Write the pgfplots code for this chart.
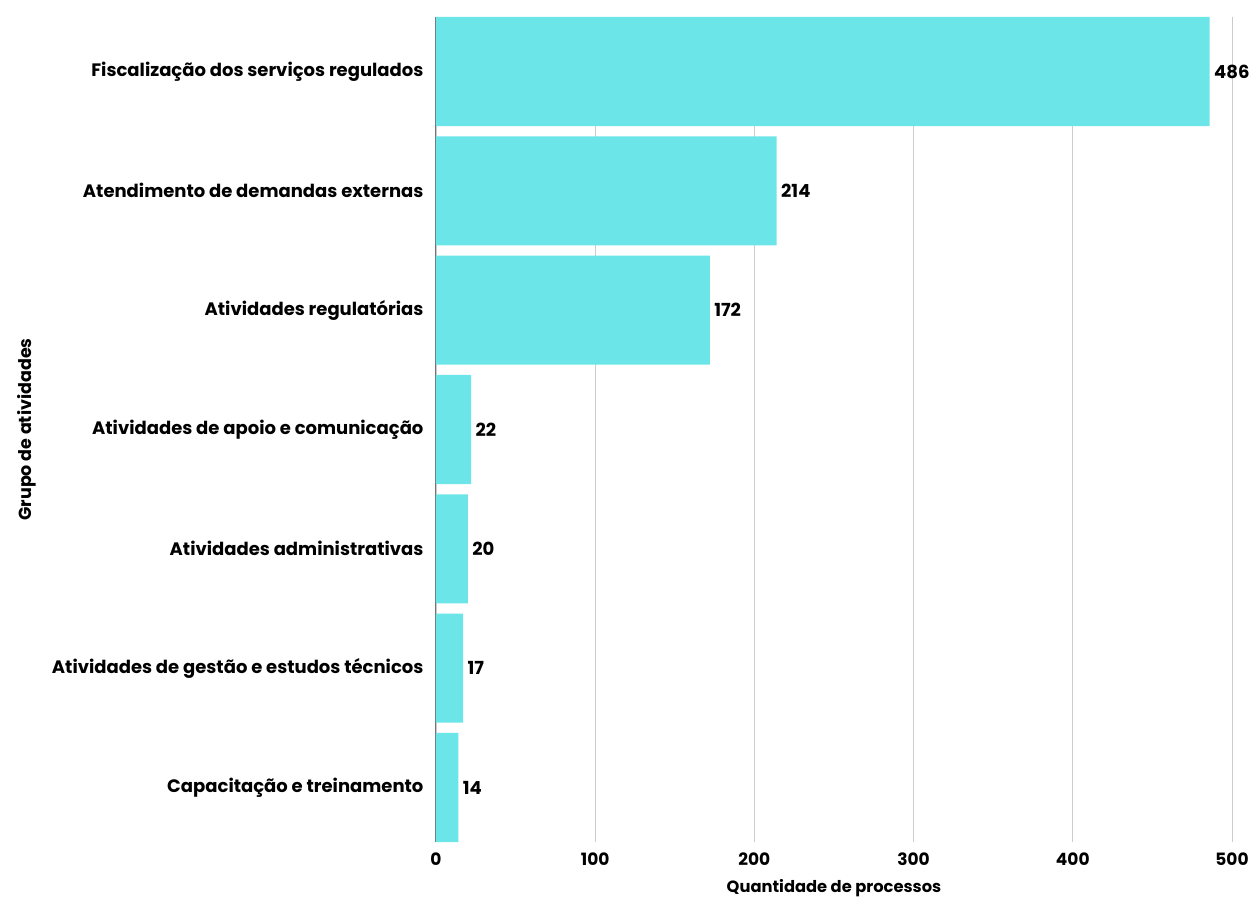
\documentclass[border=0pt]{standalone}
\usepackage{fontspec}
\setmainfont{Poppins}
\usepackage{pgfplots}
\pgfplotsset{compat=1.18}
\definecolor{barc}{HTML}{6BE5E8}
\begin{document}
\fontsize{16}{19}\selectfont
\begin{tikzpicture}
\begin{axis}[
  at={(0,0)}, anchor=south west,
  scale only axis, width=796pt, height=825pt,
  xbar, bar width=0.914,
  xmin=0, xmax=500, ymin=-0.457, ymax=6.457, y dir=reverse,
  enlargelimits=false,
  ytick={0,...,6},
  yticklabels={Fiscalização dos serviços regulados, Atendimento de demandas externas, Atividades regulatórias, Atividades de apoio e comunicação, Atividades administrativas, Atividades de gestão e estudos técnicos, Capacitação e treinamento},
  xtick={0,100,...,500},
  xmajorgrids, grid style={black!20, line width=0.8pt},
  axis x line*=bottom, axis y line*=left,
  x axis line style={draw=none},
  y axis line style={draw=black!55, line width=1pt},
  major tick length=0pt,
  yticklabel style={font=\fontsize{18}{21}\selectfont\bfseries, xshift=-7pt},
  xticklabel style={font=\fontsize{17}{20}\selectfont\bfseries, yshift=-5pt},
  /pgf/number format/assume math mode=true,
  nodes near coords,
  nodes near coords style={font=\fontsize{18}{21}\selectfont\bfseries, anchor=west, xshift=-1pt, text=black},
  xlabel={Quantidade de processos},
  ylabel={Grupo de atividades},
  xlabel style={font=\fontsize{16.3}{19}\selectfont\bfseries, at={(axis description cs:0.5,-0.0558)}, anchor=center},
  ylabel style={font=\fontsize{17.5}{20}\selectfont\bfseries, at={(axis description cs:-0.514,0.5)}, anchor=center, rotate=0},
]
\addplot[fill=barc, draw=none] coordinates {(486,0) (214,1) (172,2) (22,3) (20,4) (17,5) (14,6)};
\end{axis}
\pgfresetboundingbox
\path[use as bounding box] (-436pt,-55pt) rectangle (818pt,842pt);
\end{tikzpicture}
\end{document}
